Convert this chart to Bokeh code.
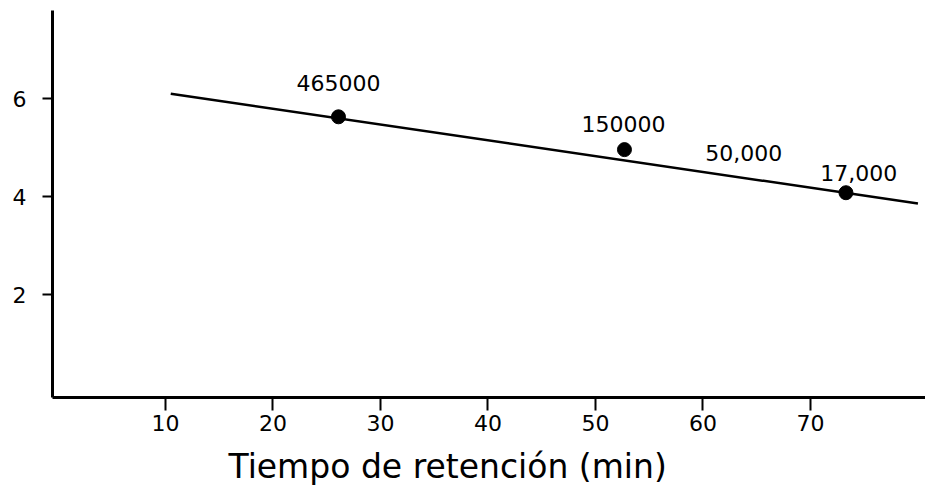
from bokeh.plotting import figure
from bokeh.models import FixedTicker, ColumnDataSource, Title
from bokeh.core.properties import value
from bokeh.embed import file_html
from bokeh.resources import INLINE

# Data
ret_time = [26.1, 52.7, 73.3]           # retention time (min)
log_mw = [5.63, 4.96, 4.08]              # y values of the standards
fit_x = [10.5, 80.0]                     # regression line ends
fit_y = [6.10, 3.86]
ann_text = ["465000", "150000", "50,000", "17,000"]
ann_x = [26.1, 52.6, 63.8, 74.5]
ann_y = [6.31, 5.49, 4.90, 4.49]
x_ticks = [10, 20, 30, 40, 50, 60, 70]
y_ticks = [2, 4, 6]

NUM_FONT = "DejaVu Sans"

p = figure(width=925, height=502, output_backend="svg", toolbar_location=None,
           x_range=(-0.5, 80.7), y_range=(-0.1, 7.8),
           min_border_left=52, min_border_right=0, min_border_top=10,
           min_border_bottom=105)
p.outline_line_color = None
p.grid.visible = False
p.background_fill_color = "white"
p.border_fill_color = "white"

# axes
for ax in (p.xaxis[0], p.yaxis[0]):
    ax.axis_line_width = 3
    ax.axis_line_color = "black"
    ax.major_tick_line_width = 2
    ax.major_tick_line_color = "black"
    ax.minor_tick_line_color = None
    ax.major_tick_in = 0
    ax.major_label_text_font = NUM_FONT
    ax.major_label_text_color = "black"
    ax.major_label_text_font_size = "22px"

p.xaxis.ticker = FixedTicker(ticks=x_ticks)
p.yaxis.ticker = FixedTicker(ticks=y_ticks)
p.xaxis.major_tick_out = 13
p.xaxis.major_label_standoff = 4
p.yaxis.major_tick_out = 10
p.yaxis.major_label_standoff = 16

# fitted line and points
p.line(fit_x, fit_y, line_color="black", line_width=2.5)
p.scatter(ret_time, log_mw, size=14, fill_color="black", line_color="black")

src = ColumnDataSource(dict(x=ann_x, y=ann_y, t=ann_text))
p.text(x="x", y="y", text="t", source=src, text_align="center",
       text_baseline="middle", text_font=value(NUM_FONT),
       text_font_size="22px", text_color="black")

# x-axis title, placed left of centre as in the reference
p.add_layout(Title(text="Tiempo de retención (min)", align="left", offset=176,
                   text_font="DejaVu Sans", text_font_size="33px",
                   text_font_style="normal", text_color="black", standoff=22),
             "below")

open("out.html", "w").write(file_html(p, INLINE))
